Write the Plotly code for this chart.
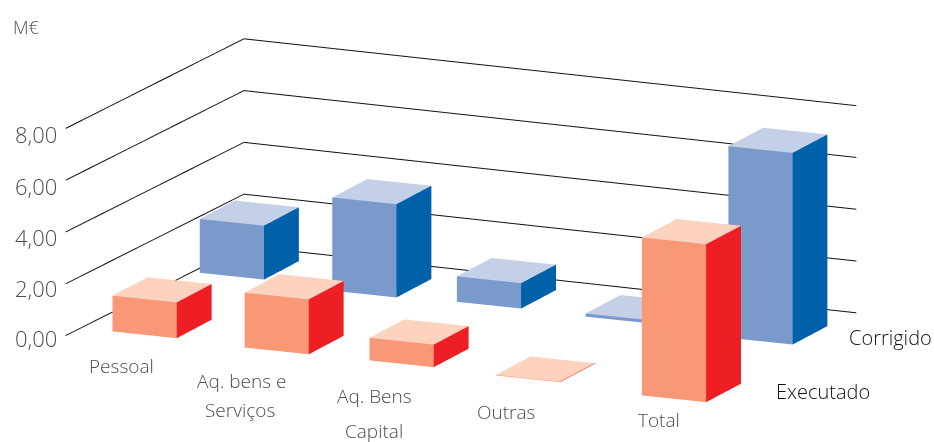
import numpy as np
import plotly.graph_objects as go

# ---- data ----
categories = ["Pessoal", "Aq. bens e<br>Serviços", "Aq. Bens<br>Capital", "Outras", "Total"]
executado = [1.38, 2.12, 0.87, 0.02, 6.10]
corrigido = [2.08, 3.60, 0.98, 0.12, 7.40]
y_ticks = [0, 2, 4, 6, 8]
y_labels = ["0,00", "2,00", "4,00", "6,00", "8,00"]

# ---- bar placement on the 3D floor (scene axis units) ----
pos_exec = [32.7, 168.8, 293.9, 423.5, 577.6]
pos_corr = [12.9, 152.2, 274.2, 405.5, 558.7]
depth_exec = [0.41, 0.31, 0.32, 0.24, 0.03]
depth_corr = [3.48, 3.30, 3.39, 3.33, 3.05]
bar_w = 64.5
bar_d = 1
wall = [(0, 0), (7.3, 4.906), (626.3, 4.79)]

EXEC = dict(front="#F89876", top="#FDD2BE", side="#EE1E25")
CORR = dict(front="#7A9ACB", top="#C4CFE8", side="#0061AB")

# ---- camera from desired axis directions (pixels per unit, y up) ----
cx, cy, cz = np.array([1, -0.105]), np.array([35, 18.5]), np.array([0, 26.0])
w1 = 1.0
w2 = w1 * -(cx[0] * cx[1]) / (cy[0] * cy[1])
w3 = (w1 * (cx[0]**2 - cx[1]**2) + w2 * (cy[0]**2 - cy[1]**2)) / cz[1]**2
k = np.array([1, 1 / np.sqrt(w2), 1 / np.sqrt(w3)])
s = np.sqrt(w1 * cx[0]**2 + w2 * cy[0]**2)
u = np.array([cx[0], cy[0] * np.sqrt(w2), 0]) / s
v = np.array([cx[1], cy[1] * np.sqrt(w2), cz[1] * np.sqrt(w3)]) / s
n = np.cross(u, v)
n = n / np.linalg.norm(n)

xr, yr, zr = [-59.5, 690.5], [-2, 7], [-2.08, 9.92]
spans = np.array([xr[1] - xr[0], yr[1] - yr[0], zr[1] - zr[0]])
SCALE = 3.7
aspect = spans * k / 750 * SCALE
DIST = 10
eye = n * DIST

fig = go.Figure()


def bar(x0, y0, h, c):
    x1, y1 = x0 + bar_w, y0 + bar_d
    X = [x0, x1, x1, x0, x0, x1, x1, x0]
    Y = [y0, y0, y1, y1, y0, y0, y1, y1]
    Z = [0, 0, 0, 0, h, h, h, h]
    I = [0, 0, 4, 4, 1, 1]
    J = [1, 5, 5, 6, 2, 6]
    K = [5, 4, 6, 7, 6, 5]
    fc = [c["front"]] * 2 + [c["top"]] * 2 + [c["side"]] * 2
    fig.add_trace(go.Mesh3d(x=X, y=Y, z=Z, i=I, j=J, k=K, facecolor=fc, flatshading=True,
                            lighting=dict(ambient=1, diffuse=0, specular=0, roughness=1, fresnel=0),
                            hoverinfo="skip", showscale=False))


for t in y_ticks:
    fig.add_trace(go.Scatter3d(x=[p[0] for p in wall], y=[p[1] for p in wall], z=[t] * 3,
                               mode="lines", line=dict(color="#111111", width=2),
                               hoverinfo="skip", showlegend=False))
for i in range(len(categories)):
    bar(pos_corr[i], depth_corr[i], corrigido[i], CORR)
    bar(pos_exec[i], depth_exec[i], executado[i], EXEC)

ann = []


def label(txt, px, py, size=19, color="#4d4d4d"):
    ann.append(dict(text=txt, x=px / 934, y=1 - py / 442, xref="paper", yref="paper",
                    xanchor="center", yanchor="middle", showarrow=False,
                    font=dict(family="Open Sans", size=size, color=color, weight=300)))


label("M€", 26, 27, 18)
for lab, py in zip(y_labels, [338, 288, 237, 186, 134]):
    label(lab, 36, py, 22)
cat_xy = [[(121, 366)], [(241, 381), (240, 410)], [(374, 396), (374, 431)], [(506, 412)], [(659, 420)]]
for c, xy in zip(categories, cat_xy):
    for part, (px, py) in zip(c.split("<br>"), xy):
        label(part, px, py, 19)
label("Corrigido", 890, 337, 20, "#111111")
label("Executado", 823, 391, 20, "#111111")

ax = dict(visible=False, showgrid=False, zeroline=False, showbackground=False, showspikes=False)
fig.update_layout(
    width=934, height=442, margin=dict(l=0, r=0, t=0, b=0),
    paper_bgcolor="white", showlegend=False, annotations=ann,
    scene=dict(
        domain=dict(x=[0, 1], y=[0, 1]),
        xaxis=dict(range=xr, **ax), yaxis=dict(range=yr, **ax), zaxis=dict(range=zr, **ax),
        aspectmode="manual",
        aspectratio=dict(x=aspect[0], y=aspect[1], z=aspect[2]),
        bgcolor="white",
        camera=dict(eye=dict(x=eye[0], y=eye[1], z=eye[2]), center=dict(x=0, y=0, z=0),
                    up=dict(x=0, y=0, z=1), projection=dict(type="orthographic")),
    ),
)
fig.write_html("out.html", post_script="document.body.style.margin='0';",
               config=dict(displayModeBar=False))
